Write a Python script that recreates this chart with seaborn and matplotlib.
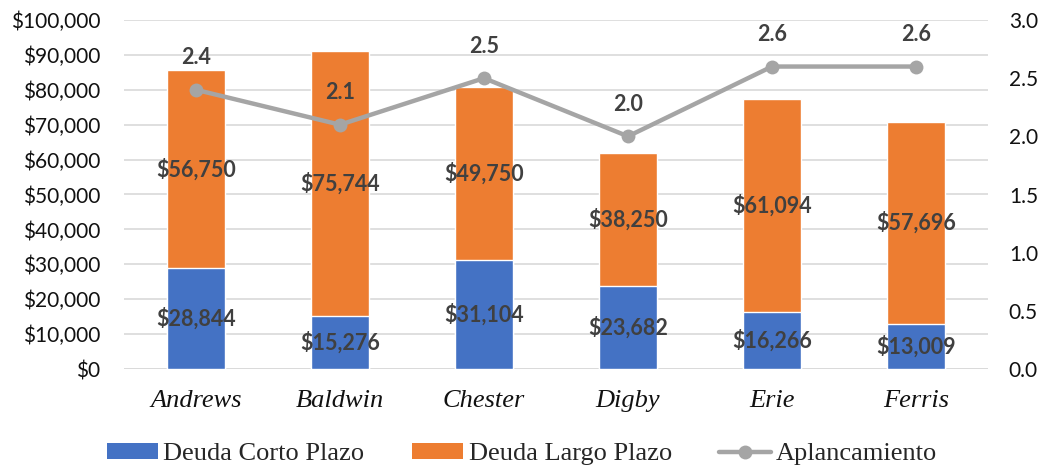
import matplotlib
matplotlib.use("Agg")
import matplotlib.pyplot as plt
from matplotlib.lines import Line2D
from matplotlib.patches import Patch
import numpy as np
import pandas as pd
import seaborn as sns

# Data
companies = ["Andrews", "Baldwin", "Chester", "Digby", "Erie", "Ferris"]
deuda_corto = [28844, 15276, 31104, 23682, 16266, 13009]
deuda_largo = [56750, 75744, 49750, 38250, 61094, 57696]
apalancamiento = [2.4, 2.1, 2.5, 2.0, 2.6, 2.6]
left_ticks = list(range(0, 100001, 10000))
right_ticks = [0.0, 0.5, 1.0, 1.5, 2.0, 2.5, 3.0]

BLUE = "#4472C4"
ORANGE = "#ED7D31"
GREY = "#A5A5A5"
LABEL = "#404040"
SANS = "Lato"
SERIF = "Liberation Serif"

sns.set_theme(style="white")
plt.rcParams["font.family"] = [SANS, "DejaVu Sans"]

df = pd.DataFrame({
    "company": companies,
    "corto": deuda_corto,
    "largo": deuda_largo,
    "total": np.array(deuda_corto) + np.array(deuda_largo),
    "ratio": apalancamiento,
})
pos = np.arange(len(companies))

fig = plt.figure(figsize=(10.44, 4.71), dpi=100)
ax = fig.add_axes([124 / 1044, 1 - 369 / 471, 864 / 1044, 349 / 471])

# stacked bars: full height in orange, short-term portion in blue on top
sns.barplot(data=df, x="company", y="total", color=ORANGE, saturation=1,
            width=0.4, ax=ax, zorder=2)
sns.barplot(data=df, x="company", y="corto", color=BLUE, saturation=1,
            width=0.4, ax=ax, zorder=3)

ax.set_xlim(-0.5, len(companies) - 0.5)
ax.set_ylim(0, 100000)
ax.set_yticks(left_ticks)
ax.set_yticklabels([f"${v:,.0f}" for v in left_ticks])
ax.yaxis.grid(True, color="#D9D9D9", linewidth=1.2, zorder=0)
ax.set_axisbelow(True)
for s in ax.spines.values():
    s.set_visible(False)
ax.axhline(0, color="#D9D9D9", linewidth=1.2, zorder=1)
ax.set_xlabel("")
ax.set_ylabel("")
ax.tick_params(axis="y", length=0, pad=17, labelsize=15, labelcolor="#111111")
ax.tick_params(axis="x", length=0, pad=15)
for t in ax.get_xticklabels():
    t.set_fontfamily(SERIF)
    t.set_fontstyle("italic")
    t.set_fontsize(19)
    t.set_color("#111111")

# segment value labels
for i, (c, l) in enumerate(zip(deuda_corto, deuda_largo)):
    ax.text(i, c / 2, f"${c:,.0f}", ha="center", va="center", fontsize=15.5,
            fontweight="bold", color=LABEL, zorder=5)
    ax.text(i, c + l / 2, f"${l:,.0f}", ha="center", va="center", fontsize=15.5,
            fontweight="bold", color=LABEL, zorder=5)

# leverage on the secondary axis
ax2 = ax.twinx()
sns.lineplot(x=pos, y=apalancamiento, ax=ax2, color=GREY, linewidth=3.2,
             marker="o", markersize=10, markeredgewidth=0, zorder=6)
ax2.set_ylim(0, 3.0)
ax2.set_yticks(right_ticks)
ax2.set_yticklabels([f"{v:.1f}" for v in right_ticks])
ax2.tick_params(axis="y", length=0, pad=15, labelsize=15, labelcolor="#111111")
for s in ax2.spines.values():
    s.set_visible(False)
ax2.grid(False)
for i, v in enumerate(apalancamiento):
    ax2.annotate(f"{v:.1f}", (i, v), xytext=(0, 23), textcoords="offset points",
                 ha="center", va="center", fontsize=15.5, fontweight="bold",
                 color=LABEL, zorder=7)

handles = [
    Patch(facecolor=BLUE, edgecolor="none"),
    Patch(facecolor=ORANGE, edgecolor="none"),
    Line2D([0], [0], color=GREY, linewidth=3.2, marker="o", markersize=10,
           markeredgewidth=0),
]
fig.legend(handles, ["Deuda Corto Plazo", "Deuda Largo Plazo", "Aplancamiento"],
           loc="center", bbox_to_anchor=(0.5, 1 - 454 / 471), ncol=3,
           frameon=False, prop={"family": SERIF, "size": 19},
           handlelength=1.95, handleheight=0.56, handletextpad=0.2,
           columnspacing=1.8)

fig.savefig("out.png", dpi=100)
